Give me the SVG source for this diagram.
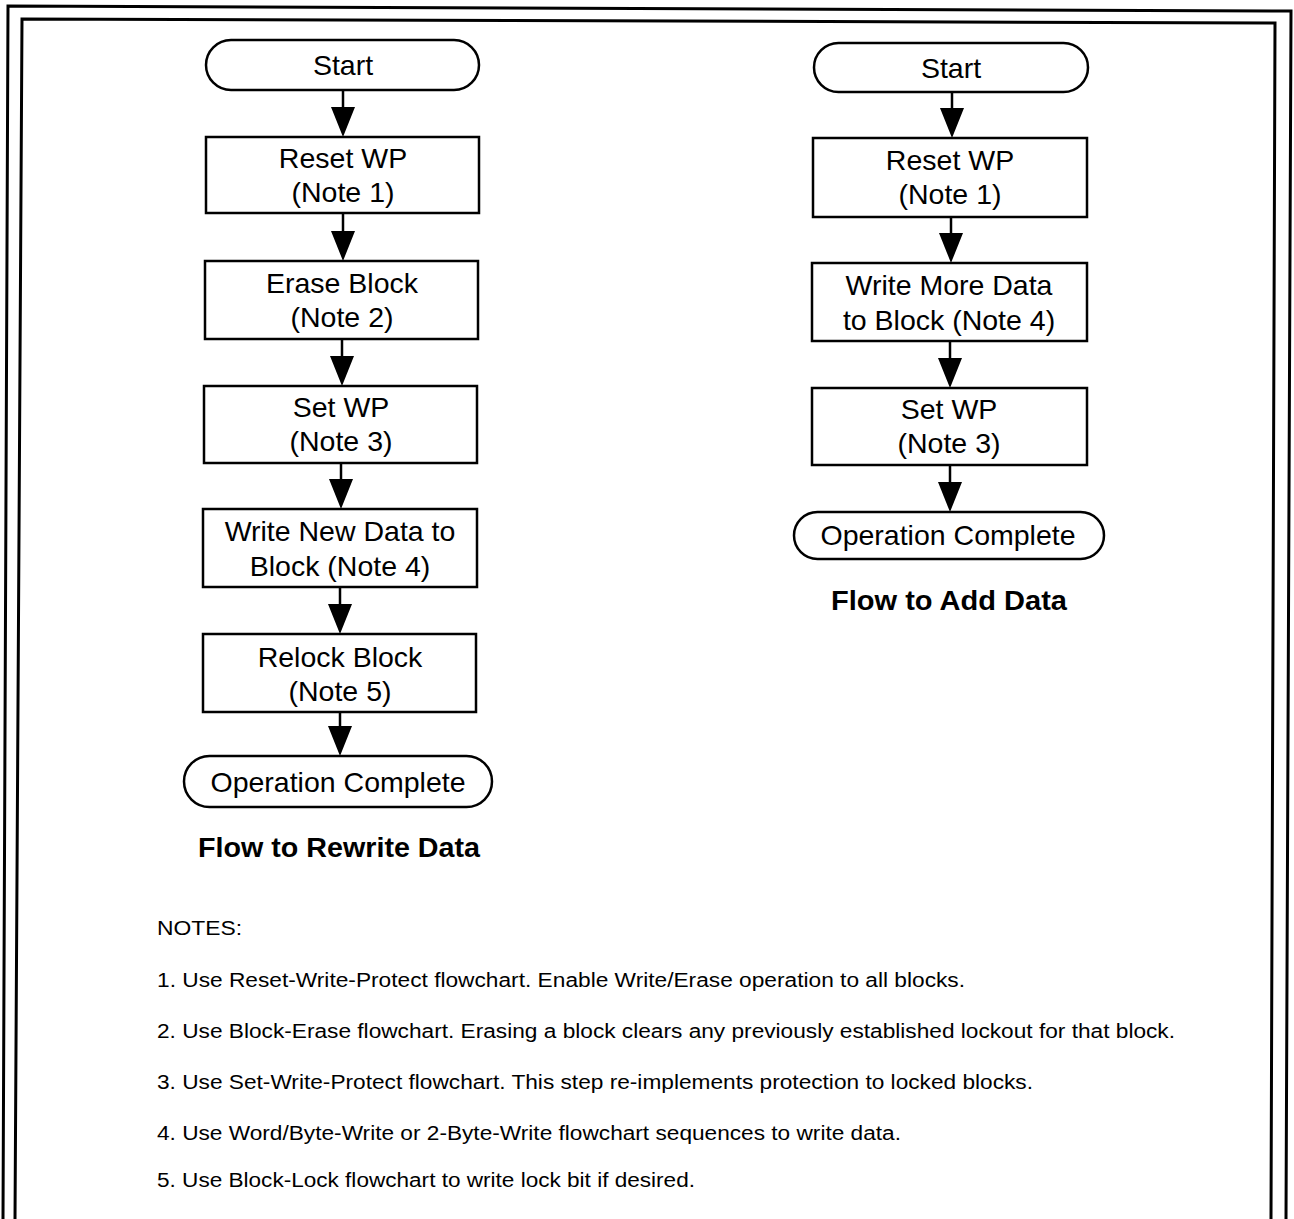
<svg xmlns="http://www.w3.org/2000/svg" width="1294" height="1219" viewBox="0 0 1294 1219">
<defs>
<style>
.frame{fill:none;stroke:#000;stroke-width:3}
.shape{fill:#fff;stroke:#000;stroke-width:2.5}
.t{font-family:"Liberation Sans",Arial,sans-serif;font-size:28.5px;fill:#000;text-anchor:middle}
.title{font-family:"Liberation Sans",Arial,sans-serif;font-size:27px;font-weight:bold;fill:#000;text-anchor:middle}
.note{font-family:"Liberation Sans",Arial,sans-serif;font-size:19.5px;fill:#000}
.conn{stroke:#000;stroke-width:2.5;fill:none}
</style>
</defs>
<rect width="1294" height="1219" fill="#fff"/>
<g id="frame">
<polyline class="frame" points="3,1219 8,6 1291,11 1286,1219"/>
<polyline class="frame" points="15,1219 22,19 1275,23 1271,1219"/>
</g>
<g id="connectors">
<line class="conn" x1="343" y1="91" x2="343" y2="107"/>
<path d="M331,107 L355,107 L343,137 Z"/>
<line class="conn" x1="343" y1="214" x2="343" y2="231"/>
<path d="M331,231 L355,231 L343,261 Z"/>
<line class="conn" x1="342" y1="339" x2="342" y2="356"/>
<path d="M330,356 L354,356 L342,386 Z"/>
<line class="conn" x1="341" y1="463" x2="341" y2="479"/>
<path d="M329,479 L353,479 L341,509 Z"/>
<line class="conn" x1="340" y1="587" x2="340" y2="604"/>
<path d="M328,604 L352,604 L340,634 Z"/>
<line class="conn" x1="340" y1="712" x2="340" y2="726"/>
<path d="M328,726 L352,726 L340,756 Z"/>
<line class="conn" x1="952" y1="92" x2="952" y2="108"/>
<path d="M940,108 L964,108 L952,138 Z"/>
<line class="conn" x1="951" y1="217" x2="951" y2="233"/>
<path d="M939,233 L963,233 L951,263 Z"/>
<line class="conn" x1="950" y1="341" x2="950" y2="358"/>
<path d="M938,358 L962,358 L950,388 Z"/>
<line class="conn" x1="950" y1="465" x2="950" y2="482"/>
<path d="M938,482 L962,482 L950,512 Z"/>
</g>
<g id="l-start"><rect class="shape" x="206" y="40" width="273" height="50" rx="25"/><text class="t" x="343" y="75">Start</text></g>
<g id="l-reset"><rect class="shape" x="206" y="137" width="273" height="76"/><text class="t" x="343" y="168">Reset WP</text><text class="t" x="343" y="202">(Note 1)</text></g>
<g id="l-erase"><rect class="shape" x="205" y="261" width="273" height="78"/><text class="t" x="342" y="293">Erase Block</text><text class="t" x="342" y="327">(Note 2)</text></g>
<g id="l-set"><rect class="shape" x="204" y="386" width="273" height="77"/><text class="t" x="341" y="417">Set WP</text><text class="t" x="341" y="451">(Note 3)</text></g>
<g id="l-write"><rect class="shape" x="203" y="509" width="274" height="78"/><text class="t" x="340" y="541">Write New Data to</text><text class="t" x="340" y="576">Block (Note 4)</text></g>
<g id="l-relock"><rect class="shape" x="203" y="634" width="273" height="78"/><text class="t" x="340" y="667">Relock Block</text><text class="t" x="340" y="701">(Note 5)</text></g>
<g id="l-end"><rect class="shape" x="184" y="756" width="308" height="51" rx="25.5"/><text class="t" x="338" y="792">Operation Complete</text></g>
<text class="title" x="339" y="857" textLength="282" lengthAdjust="spacingAndGlyphs">Flow to Rewrite Data</text>
<g id="r-start"><rect class="shape" x="814" y="43" width="274" height="49" rx="24.5"/><text class="t" x="951" y="78">Start</text></g>
<g id="r-reset"><rect class="shape" x="813" y="138" width="274" height="79"/><text class="t" x="950" y="170">Reset WP</text><text class="t" x="950" y="204">(Note 1)</text></g>
<g id="r-write"><rect class="shape" x="812" y="263" width="275" height="78"/><text class="t" x="949" y="295">Write More Data</text><text class="t" x="949" y="330">to Block (Note 4)</text></g>
<g id="r-set"><rect class="shape" x="812" y="388" width="275" height="77"/><text class="t" x="949" y="419">Set WP</text><text class="t" x="949" y="453">(Note 3)</text></g>
<g id="r-end"><rect class="shape" x="794" y="512" width="310" height="47" rx="23.5"/><text class="t" x="948" y="545">Operation Complete</text></g>
<text class="title" x="949" y="610" textLength="236" lengthAdjust="spacingAndGlyphs">Flow to Add Data</text>
<g id="notes">
<text class="note" x="157" y="935" textLength="85" lengthAdjust="spacingAndGlyphs">NOTES:</text>
<text class="note" x="157" y="987" textLength="808" lengthAdjust="spacingAndGlyphs">1. Use Reset-Write-Protect flowchart. Enable Write/Erase operation to all blocks.</text>
<text class="note" x="157" y="1038" textLength="1018" lengthAdjust="spacingAndGlyphs">2. Use Block-Erase flowchart. Erasing a block clears any previously established lockout for that block.</text>
<text class="note" x="157" y="1089" textLength="876" lengthAdjust="spacingAndGlyphs">3. Use Set-Write-Protect flowchart. This step re-implements protection to locked blocks.</text>
<text class="note" x="157" y="1140" textLength="744" lengthAdjust="spacingAndGlyphs">4. Use Word/Byte-Write or 2-Byte-Write flowchart sequences to write data.</text>
<text class="note" x="157" y="1187" textLength="538" lengthAdjust="spacingAndGlyphs">5. Use Block-Lock flowchart to write lock bit if desired.</text>
</g>
</svg>
